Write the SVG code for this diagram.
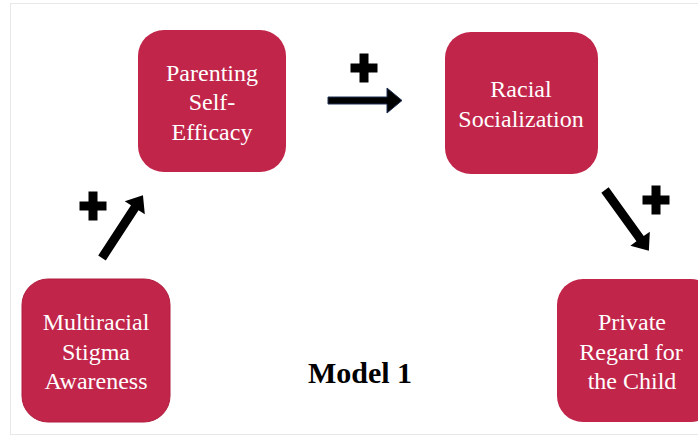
<svg xmlns="http://www.w3.org/2000/svg" width="698" height="437" viewBox="0 0 698 437">
<defs>
<style>
.node{fill:#C1254A;}
.lbl{font-family:"Liberation Serif","Times New Roman",serif;font-size:24px;fill:#ffffff;text-anchor:middle;}
.title{font-family:"Liberation Serif","Times New Roman",serif;font-size:30px;font-weight:bold;fill:#000000;text-anchor:middle;}
.arrow{fill:#000000;}
.plus{fill:#000000;}
</style>
<path id="plusShape" d="M-4.5,-14.5 H4.5 V-4.5 H13.5 V4.5 H4.5 V14.5 H-4.5 V4.5 H-13.5 V-4.5 H-4.5 Z"/>
</defs>
<rect x="0" y="0" width="698" height="437" fill="#ffffff"/>
<rect x="10.5" y="3.5" width="700" height="431" fill="none" stroke="#e8e8e8" stroke-width="1"/>
<g id="node-parenting">
<rect class="node" x="138" y="30" width="148" height="142" rx="26" ry="26"/>
<text class="lbl" x="212" y="81">Parenting</text>
<text class="lbl" x="212" y="110">Self-</text>
<text class="lbl" x="212" y="140">Efficacy</text>
</g>
<g id="node-racial">
<rect class="node" x="445" y="32" width="153" height="142" rx="26" ry="26"/>
<text class="lbl" x="521" y="97">Racial</text>
<text class="lbl" x="521" y="127">Socialization</text>
</g>
<g id="node-multiracial">
<rect class="node" x="22" y="279" width="148" height="143" rx="26" ry="26" stroke="#b01c3c" stroke-width="1"/>
<text class="lbl" x="96" y="330">Multiracial</text>
<text class="lbl" x="96" y="360">Stigma</text>
<text class="lbl" x="96" y="389">Awareness</text>
</g>
<g id="node-private">
<rect class="node" x="557" y="279" width="160" height="143" rx="26" ry="26"/>
<text class="lbl" x="632" y="330">Private</text>
<text class="lbl" x="631" y="360">Regard for</text>
<text class="lbl" x="632" y="389">the Child</text>
</g>
<g id="title">
<text class="title" x="360" y="383">Model 1</text>
</g>
<g id="connectors">
<g transform="translate(328,100.5)">
<path class="arrow" d="M0,-3.5 H59 V-12.5 L74,0 L59,12.5 V3.5 H0 Z" stroke="#1f2f55" stroke-width="1"/>
</g>
<g transform="translate(102,258) rotate(-56.9)">
<path class="arrow" d="M0,-4.5 H60 V-12 L75,0 L60,12 V4.5 H0 Z"/>
</g>
<g transform="translate(605,190) rotate(54.2)">
<path class="arrow" d="M0,-4.5 H60 V-12 L75,0 L60,12 V4.5 H0 Z"/>
</g>
<use class="plus" href="#plusShape" x="364" y="68"/>
<use class="plus" href="#plusShape" x="93" y="206"/>
<use class="plus" href="#plusShape" x="656" y="200"/>
</g>
</svg>
